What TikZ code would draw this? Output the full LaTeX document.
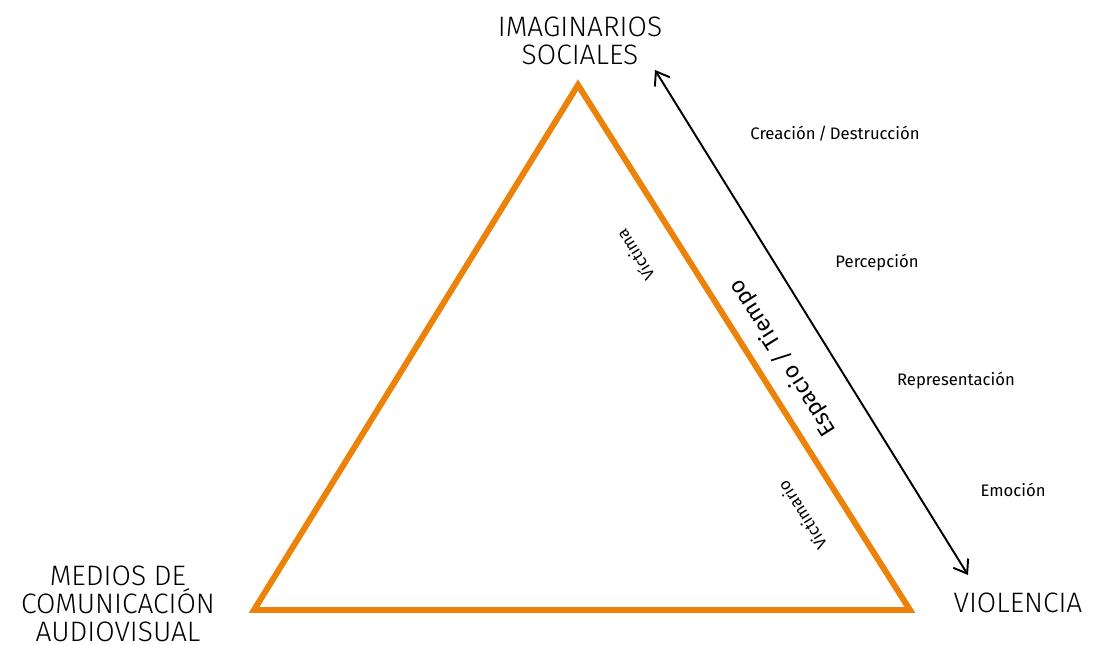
\documentclass[tikz,border=0pt]{standalone}
\usepackage{fontspec}
\setmainfont{Fira Sans}
\newfontfamily\ligera{Fira Sans Light}
\usetikzlibrary{arrows.meta}
\definecolor{naranja}{RGB}{236,130,8}

\begin{document}
\begin{tikzpicture}[x=0.02cm,y=-0.02cm]
\useasboundingbox (0,0) rectangle (1098,645);
\coordinate (imag) at (578,85);
\coordinate (medios) at (254,610);
\coordinate (viol) at (910,610);
\coordinate (flechaA) at (655,70);
\coordinate (flechaB) at (968,575);
\draw[naranja,line width=3.4pt,line join=miter] (imag) -- (medios) -- (viol) -- cycle;
\draw[line width=1.1pt,{Straight Barb[length=7pt,width=10pt]}-{Straight Barb[length=7pt,width=10pt]}] (flechaA) -- (flechaB);
\node[align=center,font=\ligera\fontsize{16}{16}\selectfont] (imaglbl) at (580,41) {IMAGINARIOS\\SOCIALES};
\node[align=center,font=\ligera\fontsize{16}{16}\selectfont] (medioslbl) at (118,604) {MEDIOS DE\\COMUNICACIÓN\\AUDIOVISUAL};
\node[font=\ligera\fontsize{16}{16}\selectfont] (viollbl) at (1018,603) {VIOLENCIA};
\node[font=\fontsize{9.5}{11}\selectfont] (creacion) at (835,134) {Creación\,/\,Destrucción};
\node[font=\fontsize{9.5}{11}\selectfont] (percepcion) at (877,263) {Percepción};
\node[font=\fontsize{9.5}{11}\selectfont] (representacion) at (956,381) {Representación};
\node[font=\fontsize{9.5}{11}\selectfont] (emocion) at (1013,490) {Emoción};
\node[rotate=122.3,font=\fontsize{9.5}{11}\selectfont] (victima) at (635,255) {Víctima};
\node[rotate=122.3,font=\fontsize{13}{15}\selectfont] (espacio) at (783,358) {Espacio / Tiempo};
\node[rotate=122.3,font=\fontsize{9.5}{11}\selectfont] (victimario) at (802,515) {Victimario};
\end{tikzpicture}
\end{document}
